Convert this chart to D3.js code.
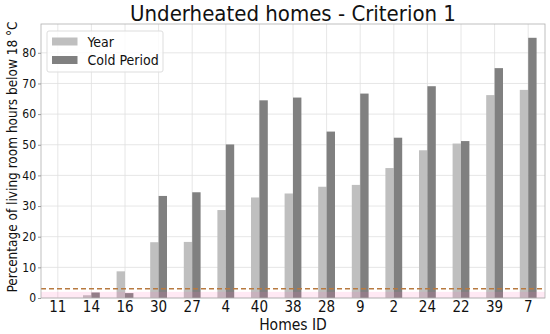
<!DOCTYPE html>
<html>
<head>
<meta charset="utf-8">
<script src="https://cdn.jsdelivr.net/npm/d3@7"></script>
<style>
  body { margin: 0; background: #fff; }
  text { font-family: "DejaVu Sans Condensed", "DejaVu Sans", sans-serif; font-stretch: condensed; fill: #111; }
</style>
</head>
<body>
<script>
// chart data
var homes = ["11", "14", "16", "30", "27", "4", "40", "38", "28", "9", "2", "24", "22", "39", "7"];
var yearPct = [0, 0.9, 8.7, 18.2, 18.3, 28.7, 32.8, 34.1, 36.3, 36.9, 42.4, 48.2, 50.4, 66.2, 67.9];
var coldPct = [0, 1.8, 1.6, 33.3, 34.5, 50.1, 64.5, 65.4, 54.3, 66.7, 52.3, 69.1, 51.2, 75.0, 84.9];
var yTicks = [0, 10, 20, 30, 40, 50, 60, 70, 80];
var threshold = 3;
var bandTop = 2;

var margin = {top: 24, right: 5, bottom: 36, left: 41},
  width = 550 - margin.left - margin.right,
  height = 334 - margin.top - margin.bottom;

var svg = d3.select("body").append("svg")
  .attr("width", 550)
  .attr("height", 334);

var g = svg.append("g")
  .attr("transform", "translate(" + margin.left + "," + margin.top + ")");

var x = d3.scaleBand().domain(homes).range([0, width]).padding(0);
var y = d3.scaleLinear().domain([0, 89.4]).range([height, 0]);
var barW = x.bandwidth() * 0.25;

// grid
g.append("g").selectAll("line")
  .data(homes).enter().append("line")
  .attr("x1", function(d) { return x(d) + x.bandwidth() / 2; })
  .attr("x2", function(d) { return x(d) + x.bandwidth() / 2; })
  .attr("y1", 0).attr("y2", height)
  .attr("stroke", "#e0e0e0").attr("stroke-width", 0.8);
g.append("g").selectAll("line")
  .data(yTicks).enter().append("line")
  .attr("x1", 0).attr("x2", width)
  .attr("y1", function(d) { return y(d); })
  .attr("y2", function(d) { return y(d); })
  .attr("stroke", "#e0e0e0").attr("stroke-width", 0.8);

// bars
g.selectAll(".year")
  .data(homes).enter().append("rect")
  .attr("class", "year")
  .attr("x", function(d) { return x(d) + x.bandwidth() / 2 - barW; })
  .attr("y", function(d, i) { return y(yearPct[i]); })
  .attr("width", barW)
  .attr("height", function(d, i) { return height - y(yearPct[i]); })
  .attr("fill", "#bfbfbf");

g.selectAll(".cold")
  .data(homes).enter().append("rect")
  .attr("class", "cold")
  .attr("x", function(d) { return x(d) + x.bandwidth() / 2; })
  .attr("y", function(d, i) { return y(coldPct[i]); })
  .attr("width", barW)
  .attr("height", function(d, i) { return height - y(coldPct[i]); })
  .attr("fill", "#808080");

// pink band + dashed threshold line
g.append("rect")
  .attr("x", 0).attr("width", width)
  .attr("y", y(bandTop)).attr("height", y(0) - y(bandTop))
  .attr("fill", "#ff69b4").attr("opacity", 0.15);
g.append("line")
  .attr("x1", 0).attr("x2", width)
  .attr("y1", y(threshold)).attr("y2", y(threshold))
  .attr("stroke", "#b87a40").attr("stroke-width", 1.4)
  .attr("stroke-dasharray", "5,3");

// frame
g.append("rect")
  .attr("width", width).attr("height", height)
  .attr("fill", "none").attr("stroke", "#b0b0b0").attr("stroke-width", 0.8);

// axes
var xAxis = g.append("g")
  .attr("transform", "translate(0," + height + ")")
  .call(d3.axisBottom(x).tickSize(0).tickPadding(3));
xAxis.select(".domain").remove();
xAxis.selectAll("text").style("font-size", "15px").attr("fill", "#111");

var yAxis = g.append("g")
  .call(d3.axisLeft(y).tickValues(yTicks).tickSize(3).tickPadding(2));
yAxis.select(".domain").remove();
yAxis.selectAll("line").attr("stroke", "#999");
yAxis.selectAll("text").style("font-size", "12px").attr("fill", "#111");

// labels
svg.append("text")
  .attr("x", margin.left + width / 2).attr("y", 21)
  .attr("text-anchor", "middle")
  .style("font-size", "22px")
  .text("Underheated homes - Criterion 1");

svg.append("text")
  .attr("x", margin.left + width / 2).attr("y", 330)
  .attr("text-anchor", "middle")
  .style("font-size", "15.5px")
  .text("Homes ID");

svg.append("text")
  .attr("transform", "rotate(-90)")
  .attr("x", -157).attr("y", 17)
  .attr("text-anchor", "middle")
  .style("font-size", "13.5px")
  .text("Percentage of living room hours below 18 °C");

// legend
var lg = g.append("g").attr("transform", "translate(6,7)");
lg.append("rect")
  .attr("width", 116).attr("height", 41).attr("rx", 2)
  .attr("fill", "#fff").attr("fill-opacity", 0.8)
  .attr("stroke", "#ddd");
var items = [{name: "Year", color: "#bfbfbf"}, {name: "Cold Period", color: "#808080"}];
items.forEach(function(it, i) {
  lg.append("rect")
    .attr("x", 5).attr("y", 6.5 + i * 18.5)
    .attr("width", 25.5).attr("height", 8)
    .attr("fill", it.color);
  lg.append("text")
    .attr("x", 40.5).attr("y", 15.7 + i * 18.5)
    .style("font-size", "14px")
    .text(it.name);
});
</script>
</body>
</html>
